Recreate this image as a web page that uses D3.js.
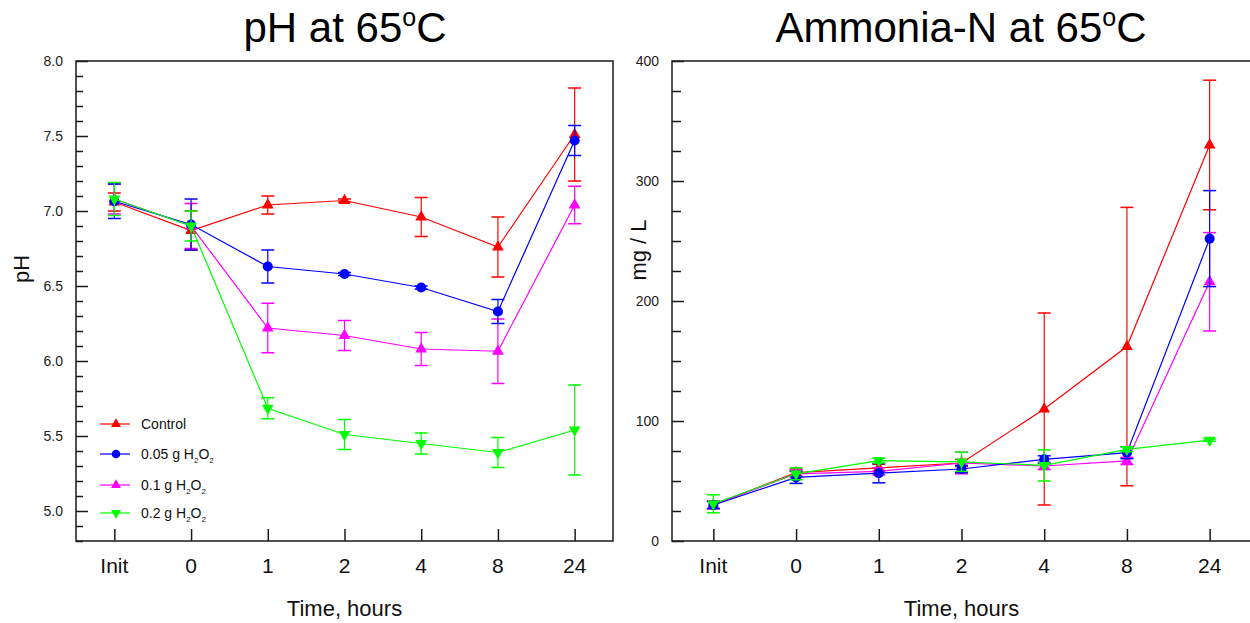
<!DOCTYPE html>
<html>
<head>
<meta charset="utf-8">
<script src="https://cdn.jsdelivr.net/npm/d3@7"></script>
<style>
  html, body { margin: 0; padding: 0; background: #fff; }
  svg { display: block; font-family: "Liberation Sans", Arial, sans-serif; }
</style>
</head>
<body>
<svg id="chart" width="1250" height="623"></svg>
<script>
// ---------- data ----------
const categories = ["Init", "0", "1", "2", "4", "8", "24"];
const seriesKeys = ["Control", "0.05 g H2O2", "0.1 g H2O2", "0.2 g H2O2"];
const seriesColors = ["#ff0000", "#0000ff", "#ff00ff", "#00ff00"];
const seriesSymbols = ["up", "circle", "up", "down"];

// pH at 65 C (mean, error)
const phControl    = [7.06, 6.87, 7.04, 7.07, 6.96, 6.76, 7.51];
const phControlErr = [0.06, 0.13, 0.06, 0.01, 0.13, 0.20, 0.31];
const ph005        = [7.065, 6.91, 6.63, 6.58, 6.49, 6.33, 7.47];
const ph005Err     = [0.115, 0.17, 0.11, 0.01, 0.01, 0.08, 0.10];
const ph01         = [7.08, 6.90, 6.22, 6.17, 6.08, 6.065, 7.04];
const ph01Err      = [0.10, 0.15, 0.165, 0.10, 0.11, 0.215, 0.125];
const ph02         = [7.08, 6.90, 5.685, 5.51, 5.45, 5.39, 5.54];
const ph02Err      = [0.11, 0.10, 0.07, 0.10, 0.07, 0.10, 0.30];

// Ammonia-N at 65 C, mg/L (mean, error)
const nhControl    = [30, 57, 61, 65, 110, 162, 330];
const nhControlErr = [3, 3, 3, 3, 80, 116, 54];
const nh005        = [30, 53, 56.5, 60, 68, 73.6, 252];
const nh005Err     = [3, 5, 8, 3, 3, 5, 40];
const nh01         = [30, 56, 58, 65, 62.5, 66.7, 216];
const nh01Err      = [3, 3, 3, 9, 3, 3, 41];
const nh02         = [31, 56, 67, 66, 63, 76.4, 84];
const nh02Err      = [7.5, 5, 2, 8, 13, 2, 1];

const phTicksMajor = [5.0, 5.5, 6.0, 6.5, 7.0, 7.5, 8.0];
const nhTicksMajor = [0, 100, 200, 300, 400];

// ---------- drawing ----------
const svg = d3.select("#chart");
const ink = "#1a1a1a";

function symbolPath(kind) {
  if (kind === "circle") return d3.symbol(d3.symbolCircle, 80)();
  return d3.symbol(d3.symbolTriangle, 60)();
}

function drawMarker(g, kind, x, y, color, scale) {
  g.append("path")
    .attr("d", symbolPath(kind))
    .attr("transform", `translate(${x},${y}) scale(${scale || 1})` + (kind === "down" ? " rotate(180)" : ""))
    .attr("fill", color);
}

function drawPanel(cfg) {
  const g = svg.append("g");
  const x = d3.scalePoint().domain(categories).range([cfg.left, cfg.right]).padding(0.5);
  const y = d3.scaleLinear().domain(cfg.yDomain).range([cfg.bottom, cfg.top]);

  // frame
  g.append("rect")
    .attr("x", cfg.left).attr("y", cfg.top)
    .attr("width", cfg.right - cfg.left).attr("height", cfg.bottom - cfg.top)
    .attr("fill", "none").attr("stroke", ink).attr("stroke-width", 1.5);

  // y axis (ticks inside)
  const yAxis = d3.axisRight(y).tickValues(cfg.yMajor).tickSize(12).tickFormat("");
  g.append("g").attr("transform", `translate(${cfg.left},0)`).call(yAxis)
    .call(a => a.select(".domain").remove())
    .call(a => a.selectAll("line").attr("stroke", ink).attr("stroke-width", 1.5));
  const yMinor = d3.axisRight(y).tickValues(cfg.yMinor).tickSize(cfg.minorLen).tickFormat("");
  g.append("g").attr("transform", `translate(${cfg.left},0)`).call(yMinor)
    .call(a => a.select(".domain").remove())
    .call(a => a.selectAll("line").attr("stroke", ink).attr("stroke-width", 1.5));
  g.selectAll(null).data(cfg.yMajor).join("text")
    .attr("x", cfg.left - 13).attr("y", d => y(d)).attr("dy", "0.36em")
    .attr("text-anchor", "end").attr("font-size", 14).attr("fill", "#222")
    .text(cfg.yFormat);

  // x axis (ticks inside)
  const xAxis = d3.axisTop(x).tickSize(12).tickFormat("");
  g.append("g").attr("transform", `translate(0,${cfg.bottom})`).call(xAxis)
    .call(a => a.select(".domain").remove())
    .call(a => a.selectAll("line").attr("stroke", ink).attr("stroke-width", 1.5));
  g.selectAll(null).data(categories).join("text")
    .attr("x", d => x(d)).attr("y", cfg.bottom + 32)
    .attr("text-anchor", "middle").attr("font-size", 21).attr("fill", "#111")
    .text(d => d);

  // axis titles
  g.append("text").attr("x", x("2")).attr("y", cfg.bottom + 75)
    .attr("text-anchor", "middle").attr("font-size", 22).attr("fill", "#111")
    .text("Time, hours");
  g.append("text")
    .attr("transform", `translate(${cfg.yTitleX},${cfg.yTitleY}) rotate(-90)`)
    .attr("text-anchor", "middle").attr("font-size", 22).attr("fill", "#111")
    .text(cfg.yTitle);

  // chart title
  const t = g.append("text").attr("x", cfg.titleX).attr("y", 42)
    .attr("text-anchor", "middle").attr("font-size", 42).attr("fill", "#000");
  t.append("tspan").text(cfg.title);
  t.append("tspan").attr("font-size", 25).attr("dy", -16).text("o");
  t.append("tspan").attr("dy", 16).text("C");

  // series
  const line = d3.line().x((d, i) => x(categories[i])).y(d => y(d));
  cfg.order.forEach(si => {
    const vals = cfg.means[si], errs = cfg.errs[si], col = seriesColors[si];
    g.append("path").attr("d", line(vals)).attr("fill", "none")
      .attr("stroke", col).attr("stroke-width", 1.2);
    vals.forEach((v, i) => {
      const cx = x(categories[i]);
      const y1 = y(v + errs[i]), y2 = y(v - errs[i]);
      g.append("line").attr("x1", cx).attr("x2", cx).attr("y1", y1).attr("y2", y2)
        .attr("stroke", col).attr("stroke-width", 1.2);
      [y1, y2].forEach(yy => g.append("line")
        .attr("x1", cx - 6.5).attr("x2", cx + 6.5).attr("y1", yy).attr("y2", yy)
        .attr("stroke", col).attr("stroke-width", 1.5));
    });
    vals.forEach((v, i) => drawMarker(g, seriesSymbols[si], x(categories[i]), y(v), col));
  });

  return g;
}

drawPanel({
  left: 76, right: 613, top: 61, bottom: 541,
  yDomain: [4.8, 8.0], yMajor: phTicksMajor,
  yMinor: d3.range(48, 81).map(d => d / 10).filter(d => Math.round(d * 10) % 5 !== 0),
  minorLen: 7, yFormat: d3.format(".1f"),
  yTitle: "pH", yTitleX: 29, yTitleY: 269,
  title: "pH at 65", titleX: 345,
  means: [phControl, ph005, ph01, ph02],
  errs: [phControlErr, ph005Err, ph01Err, ph02Err],
  order: [0, 2, 1, 3]
});

drawPanel({
  left: 672, right: 1251, top: 61, bottom: 541,
  yDomain: [0, 400], yMajor: nhTicksMajor,
  yMinor: d3.range(0, 401, 25).filter(d => d % 100 !== 0),
  minorLen: 9, yFormat: d3.format("d"),
  yTitle: "mg / L", yTitleX: 646, yTitleY: 250,
  title: "Ammonia-N at 65", titleX: 961,
  means: [nhControl, nh005, nh01, nh02],
  errs: [nhControlErr, nh005Err, nh01Err, nh02Err],
  order: [0, 2, 1, 3]
});

// legend (left panel)
const legendRows = [
  { si: 0, parts: [["Control", 0]] },
  { si: 1, parts: [["0.05 g H", 0], ["2", 1], ["O", 0], ["2", 1]] },
  { si: 2, parts: [["0.1 g H", 0], ["2", 1], ["O", 0], ["2", 1]] },
  { si: 3, parts: [["0.2 g H", 0], ["2", 1], ["O", 0], ["2", 1]] }
];
const legendY = [424, 454, 485, 513];
const lg = svg.append("g");
legendRows.forEach((r, k) => {
  const yy = legendY[k], col = seriesColors[r.si];
  lg.append("line").attr("x1", 100).attr("x2", 130).attr("y1", yy).attr("y2", yy)
    .attr("stroke", col).attr("stroke-width", 1.2);
  drawMarker(lg, seriesSymbols[r.si], 116, yy, col, 0.85);
  const t = lg.append("text").attr("x", 141).attr("y", yy + 5)
    .attr("font-size", 14).attr("fill", "#111");
  let down = false;
  r.parts.forEach(([s, sub]) => {
    const ts = t.append("tspan").text(s);
    if (sub) { ts.attr("font-size", 8).attr("dy", down ? 0 : 4); down = true; }
    else if (down) { ts.attr("dy", -4); down = false; }
  });
});
</script>
</body>
</html>
